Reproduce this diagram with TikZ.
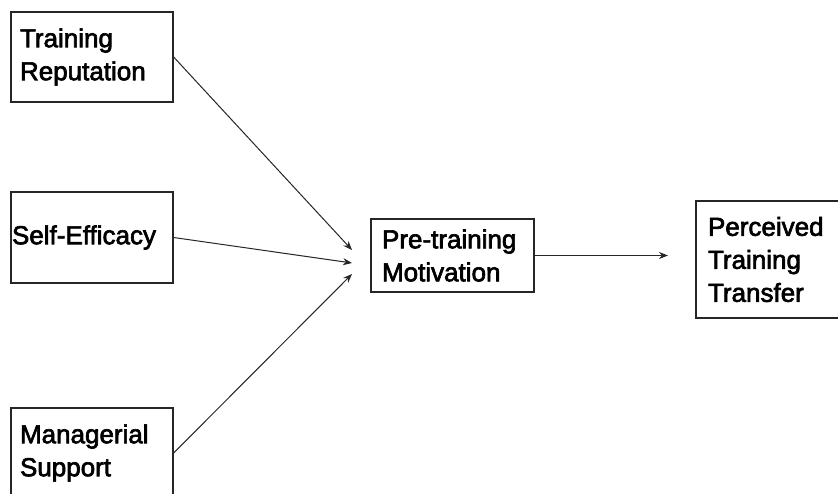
\documentclass[tikz,border=0pt]{standalone}
\usepackage{fontspec}
\setmainfont[Ligatures={NoCommon}]{Liberation Sans}
\newfontfamily\boxfont[Ligatures={NoCommon},FakeBold=2.5]{Liberation Sans}
\usetikzlibrary{arrows.meta}
\begin{document}
\begin{tikzpicture}[x=1pt,y=-1pt,
  box/.style={draw=black!85,line width=1.3pt,rectangle,align=left,
    inner xsep=0pt,inner ysep=0pt,font=\boxfont\fontsize{26}{33}\selectfont,text=black},
  conn/.style={draw=black!85,line width=1pt,-{Stealth[length=9pt,width=7pt]}}]
\useasboundingbox (0,0) rectangle (838,493);
\clip (0,0) rectangle (838,493);
\fill[white] (0,0) rectangle (838,493);
\node[box,minimum width=162pt,minimum height=90pt,text width=144pt] (tr) at (92,57) {Training\\Reputation};
\node[box,minimum width=162pt,minimum height=91pt,text width=160pt] (se) at (92,237.5) {Self-Efficacy};
\node[box,minimum width=162pt,minimum height=90pt,text width=144pt] (ms) at (92,453) {Managerial\\Support};
\node[box,minimum width=163pt,minimum height=73pt,text width=141pt] (pt) at (452.5,255.5) {Pre-training\\Motivation};
\node[box,minimum width=152pt,minimum height=117pt,text width=128pt] (ptt) at (772,259.5) {Perceived\\Training\\Transfer};
\coordinate (h1) at (352,250);
\coordinate (h2) at (352,263);
\coordinate (h3) at (352,274);
\coordinate (h4) at (668,255.5);
\draw[conn] (tr.east) -- (h1);
\draw[conn] (se.east) -- (h2);
\draw[conn] (ms.east) -- (h3);
\draw[conn] (pt.east) -- (h4);
\end{tikzpicture}
\end{document}
